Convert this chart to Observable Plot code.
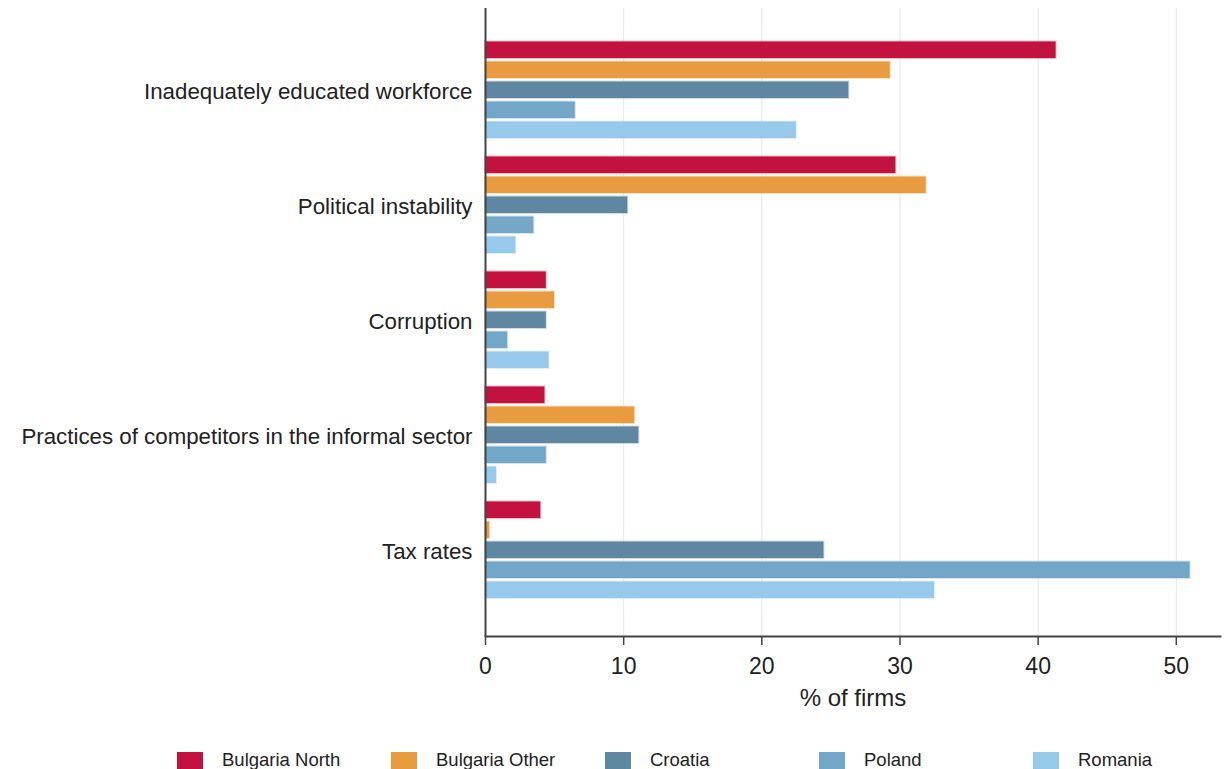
<!DOCTYPE html>
<html>
<head>
<meta charset="utf-8">
<script src="https://cdn.jsdelivr.net/npm/d3@7"></script>
<script src="https://cdn.jsdelivr.net/npm/@observablehq/plot@0.6"></script>
<style>
  html, body { margin: 0; padding: 0; background: #fff; }
  #chart { width: 1226px; }
  .legend { display: flex; padding-left: 177px; margin-top: 29px; font-family: "Liberation Sans", Arial, sans-serif; font-size: 18.5px; color: #222; }
  .legend .item { display: flex; align-items: center; width: 214px; flex: 0 0 214px; }
  .legend .sw { width: 26px; height: 17px; margin-right: 19px; box-sizing: border-box; flex: 0 0 26px; }
</style>
</head>
<body>
<div id="chart"></div>
<script>
const categories = [
  "Inadequately educated workforce",
  "Political instability",
  "Corruption",
  "Practices of competitors in the informal sector",
  "Tax rates"
];
const countries = ["Bulgaria North", "Bulgaria Other", "Croatia", "Poland", "Romania"];
const colors = ["#c41240", "#e89c3f", "#5f87a1", "#73a7c8", "#96c9ea"];
const bulgariaNorth = [41.3, 29.7, 4.4, 4.3, 4.0];
const bulgariaOther = [29.3, 31.9, 5.0, 10.8, 0.3];
const croatia      = [26.3, 10.3, 4.4, 11.1, 24.5];
const poland       = [6.5, 3.5, 1.6, 4.4, 51.0];
const romania      = [22.5, 2.2, 4.6, 0.8, 32.5];
const xTicks = [0, 10, 20, 30, 40, 50];
const xLabel = "% of firms";

const series = [bulgariaNorth, bulgariaOther, croatia, poland, romania];
const data = [];
countries.forEach((c, i) => categories.forEach((cat, j) => data.push({country: c, category: cat, value: series[i][j]})));

const font = "'Liberation Sans', Arial, Helvetica, sans-serif";
const B = 100; // approx band width
const chart = Plot.plot({
  width: 1226,
  height: 720,
  marginLeft: 485,
  marginRight: 6,
  marginTop: 8,
  marginBottom: 84,
  style: {fontFamily: font, fontSize: "21px", color: "#222", background: "white"},
  x: {domain: [0, 53.2]},
  y: {domain: categories, paddingInner: 0.132, paddingOuter: 0.29, align: 0.48},
  color: {domain: countries, range: colors},
  marks: [
    Plot.ruleX(xTicks.slice(1), {stroke: "#e6e6e6", strokeWidth: 1}),
    ...countries.map((c, i) => Plot.barX(data.filter(d => d.country === c), {
      x: "value", y: "category", fill: "country",
      stroke: "country", strokeOpacity: 0.3, strokeWidth: 2,
      insetTop: i * B / 5 + 0.5, insetBottom: B - (i + 1) * B / 5 + 3
    })),
    Plot.axisX({ticks: xTicks, tickSize: 9, tickPadding: 12, fontSize: 23, label: null, stroke: "#444", strokeWidth: 1.5}),
    Plot.frame({anchor: "bottom", stroke: "#444", strokeWidth: 2}),
    Plot.text([xLabel], {frameAnchor: "bottom", dy: 69, fontSize: 24, fill: "#222"}),
    Plot.axisY({tickSize: 0, tickPadding: 13, fontSize: 22.3, label: null}),
    Plot.ruleX([0], {stroke: "#444", strokeWidth: 2})
  ]
});
document.getElementById("chart").appendChild(chart);

const legend = document.createElement("div");
legend.className = "legend";
countries.forEach((c, i) => {
  const item = document.createElement("div");
  item.className = "item";
  const sw = document.createElement("span");
  sw.className = "sw";
  sw.style.background = colors[i];
  sw.style.border = "1px solid " + colors[i] + "66";
  const t = document.createElement("span");
  t.textContent = c;
  item.appendChild(sw);
  item.appendChild(t);
  legend.appendChild(item);
});
document.getElementById("chart").appendChild(legend);
</script>
</body>
</html>
